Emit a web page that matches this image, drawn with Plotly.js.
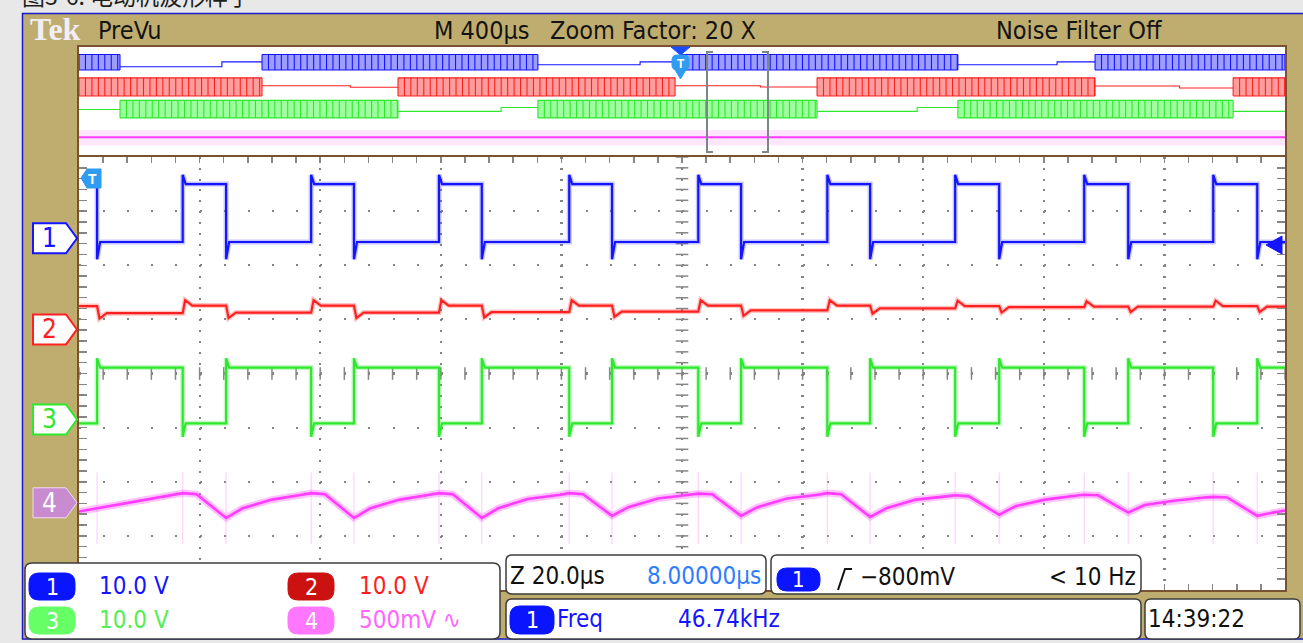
<!DOCTYPE html>
<html>
<head>
<meta charset="utf-8">
<script src="https://cdn.plot.ly/plotly-3.0.1.min.js"></script>
<style>
html,body{margin:0;padding:0;background:#e8e8e8;}
#chart{width:1303px;height:643px;}
</style>
</head>
<body>
<div id="chart"></div>
<script>
// ================= DATA =================
const channelNames   = ['1', '2', '3', '4'];
const channelScales  = ['10.0 V', '10.0 V', '10.0 V', '500mV \u223F'];
const voltsPerDiv    = [10, 10, 10, 0.5];
const groundDiv      = [2.5, 0.815, -0.85, -2.39];   // marker positions (divisions)

// Main (zoomed) window, time in µs (20 µs/div, 10 div)
const ch1Fall = [-97.0, -75.6, -54.4, -33.2, -11.6, 9.8, 31.2, 52.6, 74.0, 95.4];
const ch1Rise = [-82.8, -61.5, -40.3, -18.7, 2.7, 24.1, 45.3, 66.7, 88.1];
const ch1Levels = {high: 10.0, low: -0.7, riseSpike: 11.7, fallSpike: -3.9};
const ch3Levels = {high: 9.6, low: -0.7, riseSpike: 11.3, fallSpike: -3.2};
const ch2Initial = 4.3;
const ch2Low  = [3.0, 3.1, 3.1, 3.2, 3.3, 3.5, 3.9, 4.1, 4.2, 4.2];
const ch2High = [4.4, 4.4, 4.4, 4.4, 4.4, 4.4, 4.3, 4.2, 4.3];
const ch2RiseSpike = 1.0, ch2FallSpike = -1.0;
const ch4T = [-100, -95, -91, -86, -82.8, -80.5,
              -75.6, -72.9, -68.0, -63.0, -61.5, -59.2,
              -54.4, -51.7, -46.8, -41.8, -40.3, -38.0,
              -33.2, -30.5, -25.6, -20.2, -18.7, -16.4,
              -11.6, -8.9, -4.0, 1.2, 2.7, 5.0,
              9.8, 12.5, 17.4, 22.6, 24.1, 26.4,
              31.2, 33.9, 38.8, 43.8, 45.3, 47.6,
              52.6, 55.3, 60.2, 65.2, 66.7, 69.0,
              74.0, 76.7, 81.6, 86.6, 88.1, 90.4,
              95.4, 98.0, 100];
const ch4V = [-0.08, -0.03, 0.01, 0.06, 0.09, 0.08,
              -0.14, -0.05, 0.03, 0.075, 0.09, 0.08,
              -0.14, -0.05, 0.03, 0.075, 0.09, 0.08,
              -0.14, -0.05, 0.035, 0.075, 0.09, 0.08,
              -0.12, -0.04, 0.04, 0.075, 0.085, 0.08,
              -0.12, -0.04, 0.04, 0.075, 0.09, 0.08,
              -0.13, -0.05, 0.03, 0.06, 0.07, 0.06,
              -0.11, -0.03, 0.03, 0.065, 0.075, 0.07,
              -0.09, -0.02, 0.02, 0.05, 0.055, 0.05,
              -0.12, -0.09, -0.07];

// Overview (PreVu) record, time in µs (400 µs/div)
const pulseFreqKHz = 46.74;
const ch1Bursts = [[-2000, -1864], [-1393, -478], [-7, 915], [1370, 2000]];
const ch2Bursts = [[-2000, -1393], [-942, -23], [448, 1370], [1828, 2000]];
const ch3Bursts = [[-1864, -942], [-478, 448], [915, 1828]];
const ch1FlatStart = [-1864, -478, 915],  ch1FlatStep = [-1526, -139, 1244];
const ch1FlatA = [0.4, 1.8, 1.8],          ch1FlatB = [4.0, 4.0, 4.0];
const ch2FlatStart = [-1393, -23, 1370],   ch2FlatStep = [-1100, 260, 1650];
const ch2FlatA = [3.2, 3.2, 3.0],          ch2FlatB = [2.0, 2.2, 1.5];
const ch3FlatStart = [-2000, -942, 448, 1828], ch3FlatStep = [-1950, -600, 780, 1950];
const ch3FlatA = [2.2, 0.8, 0.8, 0.8],     ch3FlatB = [2.2, 3.7, 3.7, 0.8];
const burstHigh = [9.5, 9.0, 9.0];
const burstLow  = [-2.0, -4.5, -4.0];
const ch4OvLevel = -0.15, ch4OvHigh = 0.12, ch4OvLow = -0.45;

// Readouts
const headerTexts  = ['PreVu', 'M 400\u00B5s', 'Zoom Factor: 20 X', 'Noise Filter Off'];
const zoomTexts    = ['Z 20.0\u00B5s', '8.00000\u00B5s'];
const triggerTexts = ['\u2212800mV', '< 10 Hz'];
const measureTexts = ['Freq', '46.74kHz'];
const clockText    = '14:39:22';
const titleText    = '\u56FE3-6. \u7535\u52A8\u673A\u6CE2\u5F62\u6837\u5B50';

// ================= STYLE =================
const W = 1303, H = 643;
const colors = ['#1414ff', '#ff2020', '#2ee82e', '#ff3cff'];
const halos  = ['rgba(60,60,255,0.30)', 'rgba(255,60,60,0.30)', 'rgba(60,235,60,0.30)', 'rgba(255,80,255,0.35)'];
const haloW  = [5, 5, 5, 7];
const coreW  = [2.2, 2.2, 2.2, 2.6];
const fills  = ['rgba(140,140,255,0.85)', 'rgba(255,140,140,0.85)', 'rgba(140,255,140,0.85)', 'rgba(255,200,255,0.45)'];
const pillColors = ['#0a14ff', '#cc1111', '#66ff66', '#ff77ff'];
const TAN = '#bfad6f', BROWN = '#7a5230', GRID = '#858585', GREY = '#e8e8e8';
const FONT = "'Liberation Sans Narrow', 'DejaVu Sans Condensed', 'Arial Narrow', sans-serif";
const HS = 25, BS = 24;   // header / readout font sizes

const px = x => x / W;
const py = y => 1 - y / H;
const toDiv = (c, v) => v == null ? null : groundDiv[c] + v / voltsPerDiv[c];

// ================= TRACES =================
const traces = [];
function addLine(xs, ys, color, width, axis, extra) {
  traces.push(Object.assign({x: xs, y: ys, type: 'scatter', mode: 'lines',
    line: {color: color, width: width}, hoverinfo: 'skip',
    xaxis: axis === 2 ? 'x2' : 'x', yaxis: axis === 2 ? 'y2' : 'y'}, extra || {}));
}

// centre cross-hair ticks (graticule)
(function() {
  const hx = [], hy = [], vx = [], vy = [];
  for (let k = -25; k <= 25; k++) { hx.push(k * 4); hy.push(0); }
  for (let k = -20; k <= 20; k++) { vx.push(0); vy.push(k * 0.2); }
  traces.push({x: hx, y: hy, type: 'scatter', mode: 'markers', hoverinfo: 'skip',
    marker: {symbol: 'line-ns', size: 9, line: {color: GRID, width: 1.5}}});
  traces.push({x: vx, y: vy, type: 'scatter', mode: 'markers', hoverinfo: 'skip',
    marker: {symbol: 'line-ew', size: 9, line: {color: GRID, width: 1.5}}});
})();

const edges = ch1Fall.map(t => ({t: t, up: false})).concat(ch1Rise.map(t => ({t: t, up: true})))
  .sort((a, b) => a.t - b.t);

// square channels (1 and complementary 3)
function squareTrace(lv, invert, startT, startV) {
  const xs = [startT], ys = [startV];
  let curV = startV;
  edges.forEach(e => {
    const goesUp = invert ? !e.up : e.up;
    const from = goesUp ? lv.low : lv.high;
    const spike = goesUp ? lv.riseSpike : lv.fallSpike;
    const to = goesUp ? lv.high : lv.low;
    xs.push(e.t, e.t, e.t + 0.5); ys.push(from, spike, to);
    curV = to;
  });
  xs.push(100); ys.push(curV);
  return [xs, ys];
}
const [x1, y1] = squareTrace(ch1Levels, false, ch1Fall[0], ch1Levels.high);
const [x3, y3] = squareTrace(ch3Levels, true, -100, ch3Levels.low);

// Channel 2
const x2 = [-100], y2 = [ch2Initial];
let iF = 0, iR = 0, cur = ch2Initial;
edges.forEach(e => {
  const lv = e.up ? ch2High[iR++] : ch2Low[iF++];
  const sp = e.up ? ch2RiseSpike : ch2FallSpike;
  x2.push(e.t, e.t + 0.4, e.t + 1.6); y2.push(cur, lv + sp, lv);
  cur = lv;
});
x2.push(100); y2.push(cur);

// Channel 4 faint edge spikes
const sx = [], sy = [];
edges.forEach(e => { sx.push(e.t, e.t, null); sy.push(toDiv(3, -0.38), toDiv(3, 0.28), null); });
addLine(sx, sy, 'rgba(255,150,255,0.45)', 1.2, 1);

const mainSeries = [[x1, y1], [x2, y2], [x3, y3], [ch4T, ch4V]];
mainSeries.forEach(([xs, ys], c) => {
  const yd = ys.map(v => toDiv(c, v));
  addLine(xs, yd, halos[c], haloW[c], 1);
  addLine(xs, yd, colors[c], coreW[c], 1);
});

// Overview traces
const period = 1000 / pulseFreqKHz;
function overview(c, bursts, fStart, fStep, fA, fB) {
  const hi = toDiv(c, burstHigh[c]), lo = toDiv(c, burstLow[c]);
  const fx = [], fy = [], lx = [], ly = [];
  bursts.forEach(([a, b]) => {
    fx.push(a, b, b, a, a, null); fy.push(lo, lo, hi, hi, lo, null);
    lx.push(a, b, null, a, b, null, a, a, null, b, b, null);
    ly.push(hi, hi, null, lo, lo, null, lo, hi, null, lo, hi, null);
    for (let t = a + period; t < b; t += period) { lx.push(t, t, null); ly.push(lo, hi, null); }
  });
  fStart.forEach((s, i) => {
    const nexts = bursts.map(b => b[0]).filter(a => a > s);
    const e = nexts.length ? Math.min.apply(null, nexts) : 2000;
    lx.push(s, fStep[i], fStep[i], e, null);
    ly.push(toDiv(c, fA[i]), toDiv(c, fA[i]), toDiv(c, fB[i]), toDiv(c, fB[i]), null);
  });
  traces.push({x: fx, y: fy, type: 'scatter', mode: 'lines', fill: 'toself', fillcolor: fills[c],
    line: {width: 0, color: fills[c]}, hoverinfo: 'skip', xaxis: 'x2', yaxis: 'y2'});
  addLine(lx, ly, colors[c], 1.1, 2);
}
overview(0, ch1Bursts, ch1FlatStart, ch1FlatStep, ch1FlatA, ch1FlatB);
overview(1, ch2Bursts, ch2FlatStart, ch2FlatStep, ch2FlatA, ch2FlatB);
overview(2, ch3Bursts, ch3FlatStart, ch3FlatStep, ch3FlatA, ch3FlatB);
traces.push({x: [-2000, 2000, 2000, -2000, -2000], y: [ch4OvLow, ch4OvLow, ch4OvHigh, ch4OvHigh, ch4OvLow].map(v => toDiv(3, v)),
  type: 'scatter', mode: 'lines', fill: 'toself', fillcolor: fills[3], line: {width: 0, color: fills[3]},
  hoverinfo: 'skip', xaxis: 'x2', yaxis: 'y2'});
addLine([-2000, 2000], [toDiv(3, ch4OvLevel), toDiv(3, ch4OvLevel)], colors[3], 2, 2);

// ================= SHAPES =================
const shapes = [];
function poly(pts, close) {
  return pts.map((p, i) => (i ? 'L' : 'M') + px(p[0]) + ',' + py(p[1])).join(' ') + (close ? ' Z' : '');
}
function rrect(x0, y0, x1, y1, r) {
  const P = (x, y) => px(x) + ',' + py(y);
  return 'M' + P(x0 + r, y0) + ' L' + P(x1 - r, y0) + ' Q' + P(x1, y0) + ' ' + P(x1, y0 + r) +
    ' L' + P(x1, y1 - r) + ' Q' + P(x1, y1) + ' ' + P(x1 - r, y1) +
    ' L' + P(x0 + r, y1) + ' Q' + P(x0, y1) + ' ' + P(x0, y1 - r) +
    ' L' + P(x0, y0 + r) + ' Q' + P(x0, y0) + ' ' + P(x0 + r, y0) + ' Z';
}
function addPath(path, fill, lineColor, lineWidth, layer) {
  shapes.push({type: 'path', xref: 'paper', yref: 'paper', path: path,
    fillcolor: fill || 'rgba(0,0,0,0)', line: {color: lineColor || 'rgba(0,0,0,0)', width: lineWidth || 0},
    layer: layer || 'above'});
}
function addRect(x0, y0, x1, y1, fill, layer) {
  shapes.push({type: 'rect', xref: 'paper', yref: 'paper', x0: px(x0), x1: px(x1), y0: py(y1), y1: py(y0),
    fillcolor: fill, line: {width: 0}, layer: layer || 'below'});
}
// grey page margins around the tan instrument frame, blue frame line
addRect(-5, -5, 22, 650, GREY);
addRect(-5, -5, 1310, 13, GREY);
addRect(-5, 639.5, 1310, 650, GREY);
addPath(poly([[1310, 13.5], [22.5, 13.5], [22.5, 639], [1310, 639]]), null, '#1a1acc', 1.5, 'below');

// channel ground markers
const markerY = groundDiv.map(d => 373.5 - d * 54.1);
markerY.forEach((yc, c) => {
  const pts = [[33, yc - 15], [66, yc - 15], [77, yc], [66, yc + 15], [33, yc + 15]];
  if (c === 3) addPath(poly(pts, true), '#c98bd0', '#f2d8f2', 1);
  else addPath(poly(pts, true), '#ffffff', colors[c], 2);
});

// trigger marker (main), trigger level arrow
addPath(poly([[81, 178], [87, 169], [101, 169], [101, 188], [87, 188]], true), '#2f9cf2', '#2f9cf2', 1);
addPath(poly([[1266, 245], [1282, 236], [1282, 254]], true), '#1414ff', '#1414ff', 1);
// overview trigger marker
addPath(poly([[671, 47], [690, 47], [680.5, 55]], true), '#1a4cff', '#1a4cff', 1);
addPath(rrect(672, 55, 689, 70, 5), '#2f9cf2', '#2f9cf2', 1);
addPath(poly([[674, 68], [687, 68], [680.5, 79]], true), '#2f9cf2', '#2f9cf2', 1);
// zoom window bracket in overview
addPath(poly([[713, 52], [707, 52], [707, 152], [713, 152]]), null, '#7b8787', 2);
addPath(poly([[762, 52], [768, 52], [768, 152], [762, 152]]), null, '#7b8787', 2);

// readout boxes
const BOX = '#3c3c3c';
addPath(rrect(25, 563, 500, 639, 7), '#ffffff', BOX, 1.5);
addPath(rrect(506, 555, 766, 594, 6), '#ffffff', BOX, 1.5);
addPath(rrect(771, 555, 1141, 594, 6), '#ffffff', BOX, 1.5);
addPath(rrect(506, 599, 1141, 639, 6), '#ffffff', BOX, 1.5);
addPath(rrect(1145, 599, 1300, 639, 6), '#ffffff', BOX, 1.5);
// channel pills
const pillPos = [[29, 573], [288, 573], [29, 607], [288, 607]];
pillPos.forEach(([x, y], c) => addPath(rrect(x, y, x + 46, y + 27, 10), pillColors[c], pillColors[c], 1));
addPath(rrect(777, 568, 820, 591, 10), pillColors[0], pillColors[0], 1);
addPath(rrect(510, 606, 554, 634, 10), pillColors[0], pillColors[0], 1);
// trigger slope symbol
addPath(poly([[838, 590], [845, 569], [852, 569]]), null, '#111111', 2);

// ================= ANNOTATIONS =================
const annotations = [];
function ann(text, x, y, size, color, anchor, family, extra) {
  annotations.push(Object.assign({text: text, x: px(x), y: py(y), xref: 'paper', yref: 'paper',
    showarrow: false, xanchor: anchor || 'left', yanchor: 'middle',
    font: {family: family || FONT, size: size, color: color}}, extra || {}));
}
ann(titleText, 20, -5, 23, '#1e1e1e', 'left', "'Noto Sans CJK SC', sans-serif");
ann('<b>Tek</b>', 28, 29, 32, '#f2eef8', 'left', "'Liberation Serif', 'DejaVu Serif', serif");
ann(headerTexts[0], 96, 30, HS, '#141414');
ann(headerTexts[1], 432, 30, HS, '#141414');
ann(headerTexts[2], 548, 30, HS, '#141414');
ann(headerTexts[3], 994, 30, HS, '#141414');
// channel markers
markerY.forEach((yc, c) => ann(channelNames[c], 49, yc, 26, c === 3 ? '#ffffff' : colors[c], 'center'));
ann('<b>T</b>', 93, 178.5, 14, '#ffffff', 'center', 'Arial, sans-serif');
ann('<b>T</b>', 680.5, 64, 12, '#ffffff', 'center', 'Arial, sans-serif');
// scale readouts
const scaleTextX = [97, 357, 97, 357];
const scaleTextColor = ['#1414ff', '#ff1e1e', '#55ee55', '#ff66ff'];
pillPos.forEach(([x, y], c) => {
  ann(channelNames[c], x + 23, y + 13.5, 23, '#ffffff', 'center');
  ann(channelScales[c], scaleTextX[c], y + 13, BS, scaleTextColor[c]);
});
ann(zoomTexts[0], 508, 576, BS, '#111111');
ann(zoomTexts[1], 645, 576, BS, '#2f7dff');
ann(channelNames[0], 798.5, 579.5, 22, '#ffffff', 'center');
ann(triggerTexts[0], 858, 577, BS, '#111111');
ann(triggerTexts[1], 1138, 577, BS, '#111111', 'right');
ann(channelNames[0], 532, 620, 23, '#ffffff', 'center');
ann(measureTexts[0], 555, 619, BS, '#1414ff');
ann(measureTexts[1], 676, 619, BS, '#1414ff');
ann(clockText, 1146, 619, BS, '#111111');

// ================= LAYOUT =================
const layout = {
  width: W, height: H, margin: {l: 0, r: 0, t: 0, b: 0},
  paper_bgcolor: TAN, plot_bgcolor: '#ffffff', showlegend: false, hovermode: false,
  xaxis: {domain: [px(79), px(1285)], range: [-100, 100], anchor: 'y', fixedrange: true,
    showticklabels: false, zeroline: false, showgrid: true, gridcolor: GRID, gridwidth: 2.2,
    griddash: '2px,8.825px', tick0: 0, dtick: 20, ticks: 'inside', ticklen: 6, tickwidth: 1.5,
    tickcolor: GRID, minor: {dtick: 4, ticks: 'inside', ticklen: 6, tickwidth: 1.5, tickcolor: GRID, showgrid: false},
    showline: true, linecolor: BROWN, linewidth: 2, mirror: 'ticks'},
  yaxis: {domain: [py(590), py(157)], range: [-4, 4], anchor: 'x', fixedrange: true,
    showticklabels: false, zeroline: false, showgrid: true, gridcolor: GRID, gridwidth: 2.2,
    griddash: '2px,22.12px', tick0: 0, dtick: 1, ticks: 'inside', ticklen: 8, tickwidth: 1.5,
    tickcolor: GRID, minor: {dtick: 0.2, ticks: 'inside', ticklen: 8, tickwidth: 1.5, tickcolor: GRID, showgrid: false},
    showline: true, linecolor: BROWN, linewidth: 2, mirror: 'ticks'},
  xaxis2: {domain: [px(79), px(1285)], range: [-2000, 2000], anchor: 'y2', fixedrange: true,
    showticklabels: false, zeroline: false, showgrid: false, ticks: '',
    showline: true, linecolor: BROWN, linewidth: 2, mirror: true},
  yaxis2: {domain: [py(155), py(47)], range: [-4, 4], anchor: 'x2', fixedrange: true,
    showticklabels: false, zeroline: false, showgrid: false, ticks: '',
    showline: true, linecolor: BROWN, linewidth: 2, mirror: true},
  shapes: shapes, annotations: annotations
};

Plotly.newPlot('chart', traces, layout, {displayModeBar: false, staticPlot: true});
</script>
</body>
</html>
